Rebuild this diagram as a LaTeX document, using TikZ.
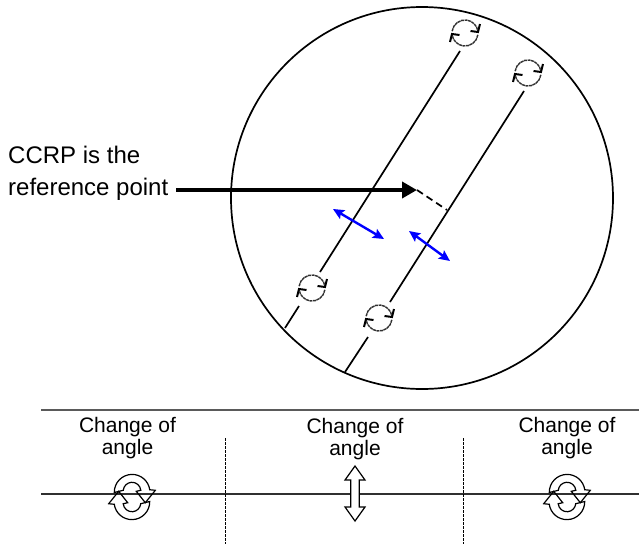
\documentclass[tikz,border=0pt]{standalone}
\usepackage{fontspec}
\setmainfont{Liberation Sans}
\usetikzlibrary{arrows.meta,positioning}
\definecolor{RSInk}{HTML}{000000}
\definecolor{RSBlue}{HTML}{0000FF}
\definecolor{RSRule}{HTML}{5A5A5A}
\definecolor{RSAxis}{HTML}{303030}
\definecolor{RSSoft}{HTML}{303030}
\tikzset{
  scanline/.style={RSInk,line width=1.7pt},
  refarrow/.style={-{Triangle[length=15pt,width=16pt]},RSInk,line width=4pt},
  offset/.style={RSInk,line width=1.7pt,dash pattern=on 7pt off 4.5pt},
  swing/.style={{Stealth[length=11pt,width=10pt,inset=2pt]}-{Stealth[length=11pt,width=10pt,inset=2pt]},RSBlue,line width=2.4pt},
  divider/.style={RSInk,line width=1.8pt,dash pattern=on 2.5pt off 1.5pt},
  biglabel/.style={inner sep=0pt,align=left,font=\fontsize{24}{32}\selectfont},
  anglelabel/.style={inner sep=0pt,align=center,font=\fontsize{21}{22}\selectfont},
  blockarrow/.style={RSInk,line width=1.2pt,fill=white},
  turnsmall/.pic={
    \foreach \r in {0,180}{
      \begin{scope}[rotate=\r]
        \draw[RSSoft,line width=1.4pt,dash pattern=on 3pt off .6pt] (172:13) arc (172:8:13);
        \draw[RSInk,line width=2pt] (15,9)--(13,1)--(5.5,2);
      \end{scope}
    }
  },
  turnbig/.pic={
    \foreach \r in {0,180}{
      \begin{scope}[rotate=\r]
        \draw[RSInk,line width=1.2pt] (-17.7,4.5) arc (181:8:17.8) -- (23.3,6.7) -- (13.3,-5.7) -- (4.3,5.7)
          -- (8.8,6.7) arc (5:175:8.8) -- cycle;
      \end{scope}
    }
  },
  updown/.pic={
    \draw[blockarrow] (0,27.5)--(10,13.5)--(4.3,13.5)--(4.3,-13.5)--(10,-13.5)--(0,-27.5)
      --(-10,-13.5)--(-4.3,-13.5)--(-4.3,13.5)--(-10,13.5)--cycle;
  },
}
\begin{document}
\begin{tikzpicture}[x=1pt,y=-1pt,every pic/.style={yscale=-1}]
  \useasboundingbox (0,0) rectangle (639,544);
  % Scan circle with the two runs across it.
  \node[draw=RSInk,line width=1.7pt,circle,minimum size=382pt,inner sep=0pt] (scan) at (422,198) {};
  \coordinate (aTop) at (460,51);
  \coordinate (aMid) at (320,272);
  \coordinate (aLow) at (299,306);
  \coordinate (aEnd) at (285,328);
  \coordinate (bTop) at (524,91);
  \coordinate (bMid) at (390,302);
  \coordinate (bLow) at (368,337);
  \coordinate (bEnd) at (345,372);
  \foreach \a/\b in {aTop/aMid,aLow/aEnd,bTop/bMid,bLow/bEnd}{
    \draw[scanline] (\a)--(\b);
  }
  \pic at (465,33) {turnsmall};
  \pic at (528,73) {turnsmall};
  \pic at (312,288) {turnsmall};
  \pic at (379,318) {turnsmall};

  % Reference point and offset to the second run.
  \node[biglabel,anchor=west] (ccrp) at (8,173) {CCRP is the\\reference point};
  \coordinate (refStart) at (176,190);
  \coordinate (refPoint) at (417,190);
  \coordinate (refFoot) at (447,210);
  \draw[refarrow] (refStart)--(refPoint);
  \draw[offset] (refPoint)--(refFoot);

  \coordinate (swingAa) at (333,209);
  \coordinate (swingAb) at (384,239);
  \coordinate (swingBa) at (409,231);
  \coordinate (swingBb) at (450,261);
  \draw[swing] (swingAa)--(swingAb);
  \draw[swing] (swingBa)--(swingBb);

  % Strip below the circle.
  \coordinate (ruleL) at (41,410);
  \coordinate (ruleR) at (639,410);
  \coordinate (axisL) at (41,493.5);
  \coordinate (axisR) at (639,493.5);
  \draw[RSRule,line width=1.4pt] (ruleL)--(ruleR);
  \draw[RSAxis,line width=2pt] (axisL)--(axisR);
  \foreach \x in {225.5,463.5}{
    \draw[divider] (\x,438)--(\x,544);
  }
  \node[anglelabel] (angleA) at (127.5,438) {Change of\\angle};
  \node[anglelabel] (angleB) at (355,439.5) {Change of\\angle};
  \node[anglelabel] (angleC) at (567,438) {Change of\\angle};
  \pic at (132,497) {turnbig};
  \pic at (355,493.5) {updown};
  \pic at (567,497) {turnbig};
\end{tikzpicture}
\end{document}
